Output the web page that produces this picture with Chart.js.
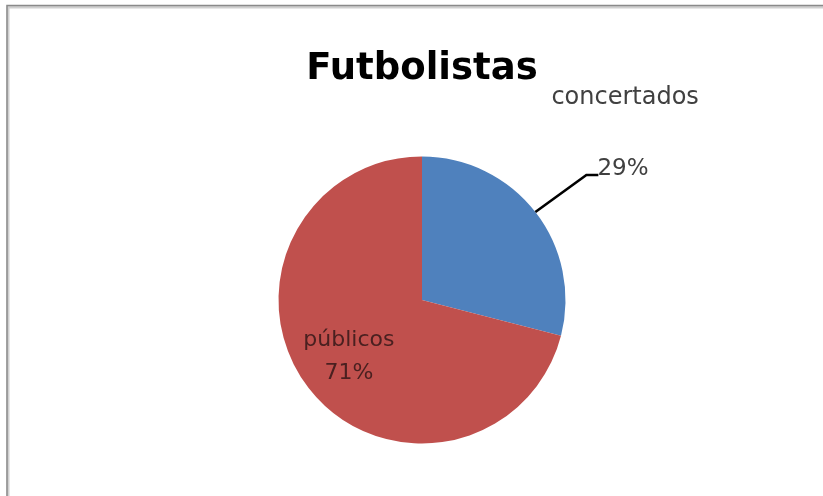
<!DOCTYPE html>
<html>
<head>
<meta charset="utf-8">
<script src="https://cdn.jsdelivr.net/npm/chart.js@4/dist/chart.umd.min.js"></script>
<style>
  html, body { margin: 0; padding: 0; background: #fff; }
  canvas { display: block; }
</style>
</head>
<body>
<canvas id="chart-fut" width="823" height="496"></canvas>
<script>
// DATA
const categories = ['concertados', 'públicos'];
const values = [29, 71];
const sliceColors = ['#4F81BD', '#C0504D'];
const chartTitle = 'Futbolistas';

const fontFamily = '"DejaVu Sans", "Open Sans", sans-serif';
const labelFont = '23px ' + fontFamily;

function pct(v) {
    const total = values.reduce((a, b) => a + b, 0);
    return Math.round(v / total * 100) + '%';
}

// frame around the chart (top and left edges visible)
const framePlugin = {
    id: 'frame',
    beforeDraw(chart) {
        const ctx = chart.ctx;
        ctx.save();
        ctx.fillStyle = '#fff';
        ctx.fillRect(0, 0, chart.width, chart.height);
        ctx.strokeStyle = '#d0d0d0';
        ctx.lineWidth = 3;
        ctx.strokeRect(8, 7, chart.width + 20, chart.height + 20);
        ctx.strokeStyle = '#8a8a8a';
        ctx.lineWidth = 1.5;
        ctx.strokeRect(7, 5.5, chart.width + 20, chart.height + 20);
        ctx.restore();
    }
};

// slice labels: first slice outside with leader line, second inside
const labelPlugin = {
    id: 'sliceLabels',
    afterDatasetsDraw(chart) {
        const ctx = chart.ctx;
        const meta = chart.getDatasetMeta(0);
        ctx.save();
        ctx.font = labelFont;

        // concertados
        const a = meta.data[0].getProps(['x', 'y', 'startAngle', 'endAngle', 'outerRadius']);
        const mid = (a.startAngle + a.endAngle) / 2;
        const sx = a.x + Math.cos(mid) * a.outerRadius;
        const sy = a.y + Math.sin(mid) * a.outerRadius;
        const ex = sx + 51, ey = sy - 37;
        ctx.strokeStyle = '#000';
        ctx.lineWidth = 2.6;
        ctx.beginPath();
        ctx.moveTo(sx, sy);
        ctx.lineTo(ex, ey);
        ctx.lineTo(ex + 12, ey);
        ctx.stroke();
        ctx.fillStyle = '#404040';
        ctx.textAlign = 'left';
        ctx.textBaseline = 'middle';
        ctx.fillText(pct(values[0]), ex + 11, ey - 6);
        ctx.textBaseline = 'alphabetic';
        ctx.font = '24px ' + fontFamily;
        ctx.fillText(categories[0], ex - 35, ey - 71);

        // públicos
        const b = meta.data[1].getProps(['x', 'y', 'startAngle', 'endAngle', 'outerRadius']);
        const midB = (b.startAngle + b.endAngle) / 2;
        const lx = b.x + Math.cos(midB) * b.outerRadius * 0.645;
        const ly = b.y + Math.sin(midB) * b.outerRadius * 0.645;
        ctx.fillStyle = '#4a2020';
        ctx.textAlign = 'center';
        ctx.textBaseline = 'middle';
        ctx.font = '22px ' + fontFamily;
        ctx.fillText(categories[1], lx, ly - 16);
        ctx.fillText(pct(values[1]), lx, ly + 17);
        ctx.restore();
    }
};

const futCot = document.getElementById('chart-fut');

let futChart = new Chart(futCot, {
    type: 'pie',
    data: {
        labels: categories,
        datasets: [{
            data: values,
            backgroundColor: sliceColors,
            borderWidth: 0
        }]
    },
    options: {
        responsive: false,
        animation: false,
        layout: {
            padding: { left: 278.5, right: 257.5, top: 0, bottom: 52.5 }
        },
        plugins: {
            legend: { display: false },
            tooltip: { enabled: false },
            title: {
                display: true,
                text: chartTitle,
                color: '#000',
                font: { family: fontFamily, size: 37, weight: 'bold', lineHeight: 1.2 },
                padding: { top: 47, bottom: 65.1 }
            }
        }
    },
    plugins: [framePlugin, labelPlugin]
});
</script>
</body>
</html>
